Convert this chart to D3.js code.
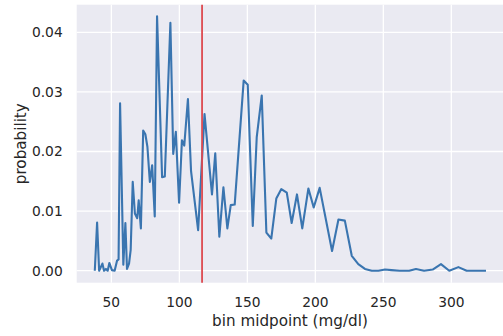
<!DOCTYPE html>
<html>
<head>
<meta charset="utf-8">
<script src="https://cdn.jsdelivr.net/npm/d3@7"></script>
<style>
  body { margin: 0; background: #fff; }
  svg { display: block; font-family: "DejaVu Sans", sans-serif; }
</style>
</head>
<body>
<script>
// bin midpoints (mg/dl) and probability per bin
var binMid = [37.8, 39.5, 41.0, 43.4, 44.6, 46.0, 47.3, 48.5, 50.4, 52.4, 54.2, 55.3, 56.4,
  58.8, 60.3, 61.5, 63.0, 64.2, 65.7, 67.3, 69.0, 70.1, 71.7, 73.4, 75.0, 76.5, 78.3,
  80.0, 81.9, 83.6, 87.3, 89.3, 93.4, 95.5, 97.4, 99.8, 101.9, 103.6, 106.3, 108.6,
  113.8, 118.5, 124.0, 126.4, 129.4, 132.4, 135.3, 137.8, 140.7, 147.3, 150.3, 154.0,
  156.9, 160.6, 164.0, 167.6, 171.3, 175.0, 179.0, 182.6, 186.5, 190.4, 194.9, 198.8,
  203.2, 212.3, 217.0, 221.7, 226.8, 231.6, 236.5, 241.5, 246.4, 251.2, 256.0, 262.0,
  269.0, 274.0, 280.0, 286.3, 292.4, 298.5, 305.2, 311.3, 318.6, 325.5];
var prob = [0, 0.0081, 0, 0.0012, 0, 0.0003, 0, 0.0013, 0.0001, 0, 0.0017, 0.0019, 0.0281,
  0.0010, 0.0080, 0.0003, 0.0012, 0.0035, 0.0149, 0.0096, 0.0088, 0.0118, 0.0071, 0.0235, 0.0229, 0.0208, 0.0149,
  0.0177, 0.0091, 0.0427, 0.0157, 0.0158, 0.0416, 0.0196, 0.0233, 0.0114, 0.0219, 0.0210, 0.0288, 0.0167,
  0.0068, 0.0263, 0.0128, 0.0197, 0.0057, 0.0140, 0.0071, 0.0110, 0.0111, 0.0319, 0.0312, 0.0075,
  0.0224, 0.0294, 0.0064, 0.0054, 0.0121, 0.0137, 0.0131, 0.0080, 0.0128, 0.0071, 0.0138, 0.0106,
  0.0139, 0.0033, 0.0086, 0.0084, 0.0025, 0.0011, 0.0003, 0, 0, 0.0002, 0.0001, 0,
  0, 0.0003, 0, 0.0002, 0.0011, 0, 0.0006, 0, 0, 0];
var meanValue = 116.7;
var xTicks = [50, 100, 150, 200, 250, 300];
var yTicks = [0, 0.01, 0.02, 0.03, 0.04];

var W = 503, H = 336;
// plot area (right edge runs past the picture, as in the reference)
var pLeft = 76.7, pRight = 508, pTop = 4.7, pBottom = 282.7;

var svg = d3.select("body").append("svg")
    .attr("width", W)
    .attr("height", H);

var x = d3.scaleLinear().domain([24.5, 341.7]).range([pLeft, pRight]);
var y = d3.scaleLinear().domain([-0.00201, 0.04463]).range([pBottom, pTop]);

// background
svg.append("rect")
    .attr("x", pLeft).attr("y", pTop)
    .attr("width", pRight - pLeft).attr("height", pBottom - pTop)
    .attr("fill", "#eaeaf2");

// grid
svg.append("g").selectAll("line")
  .data(xTicks).enter().append("line")
    .attr("x1", function(d) { return x(d); })
    .attr("x2", function(d) { return x(d); })
    .attr("y1", pTop).attr("y2", pBottom)
    .attr("stroke", "#fff").attr("stroke-width", 1.3);

svg.append("g").selectAll("line")
  .data(yTicks).enter().append("line")
    .attr("x1", pLeft).attr("x2", pRight)
    .attr("y1", function(d) { return y(d); })
    .attr("y2", function(d) { return y(d); })
    .attr("stroke", "#fff").attr("stroke-width", 1.3);

// tick labels
svg.append("g").selectAll("text")
  .data(xTicks).enter().append("text")
    .attr("x", function(d) { return x(d); })
    .attr("y", 306.7)
    .attr("text-anchor", "middle")
    .attr("font-size", 13.8)
    .attr("fill", "#262626")
    .text(function(d) { return d; });

svg.append("g").selectAll("text")
  .data(yTicks).enter().append("text")
    .attr("x", 62.7)
    .attr("y", function(d) { return y(d); })
    .attr("dy", "0.36em")
    .attr("text-anchor", "end")
    .attr("font-size", 13.8)
    .attr("fill", "#262626")
    .text(function(d) { return d3.format(".2f")(d); });

// axis labels
svg.append("text")
    .attr("x", 290)
    .attr("y", 325.7)
    .attr("text-anchor", "middle")
    .attr("font-size", 15.2)
    .attr("fill", "#262626")
    .text("bin midpoint (mg/dl)");

svg.append("text")
    .attr("transform", "translate(25.5," + ((pTop + pBottom) / 2) + ") rotate(-90)")
    .attr("text-anchor", "middle")
    .attr("font-size", 15.2)
    .attr("fill", "#262626")
    .text("probability");

// distribution line
var line = d3.line()
    .x(function(d, i) { return x(binMid[i]); })
    .y(function(d) { return y(d); });

svg.append("path")
    .datum(prob)
    .attr("fill", "none")
    .attr("stroke", "#3a75b0")
    .attr("stroke-width", 2.1)
    .attr("stroke-linejoin", "round")
    .attr("d", line);

// mean marker
svg.append("line")
    .attr("x1", x(meanValue)).attr("x2", x(meanValue))
    .attr("y1", pTop).attr("y2", pBottom)
    .attr("stroke", "#dd4a50")
    .attr("stroke-width", 1.8);
</script>
</body>
</html>
